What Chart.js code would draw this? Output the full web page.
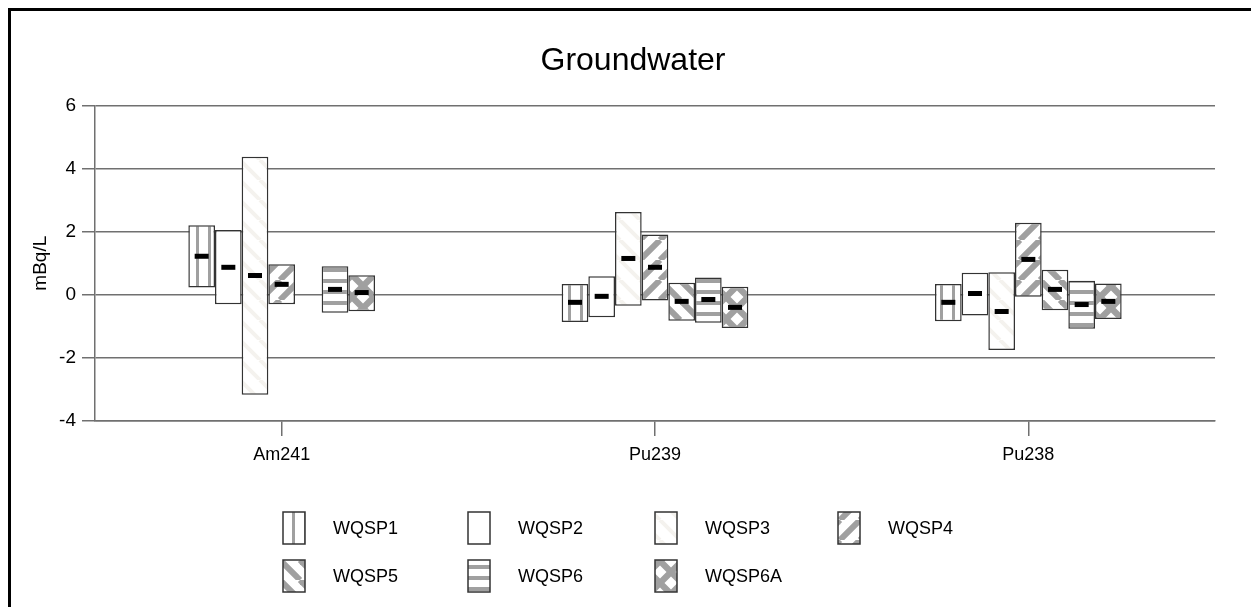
<!DOCTYPE html>
<html>
<head>
<meta charset="utf-8">
<script src="https://cdn.jsdelivr.net/npm/chart.js@4.4.0/dist/chart.umd.min.js"></script>
<style>
  html, body { margin: 0; padding: 0; background: #fff; }
  #wrap { width: 1251px; height: 607px; }
</style>
</head>
<body>
<div id="wrap"><canvas id="gwChart"></canvas></div>
<script>
const categories = ['Am241', 'Pu239', 'Pu238'];
const seriesNames = ['WQSP1', 'WQSP2', 'WQSP3', 'WQSP4', 'WQSP5', 'WQSP6', 'WQSP6A'];
const yTicks = [-4, -2, 0, 2, 4, 6];

// [low, high] range per category, and the mean marker
const wqsp1Range = [[0.23, 2.20], [-0.86, 0.34], [-0.84, 0.34]];
const wqsp1Mean = [1.22, -0.24, -0.24];
const wqsp2Range = [[-0.30, 2.05], [-0.71, 0.59], [-0.66, 0.70]];
const wqsp2Mean = [0.87, -0.05, 0.04];
const wqsp3Range = [[-3.17, 4.37], [-0.35, 2.62], [-1.75, 0.71]];
const wqsp3Mean = [0.61, 1.15, -0.53];
const wqsp4Range = [[-0.30, 0.97], [-0.18, 1.91], [-0.06, 2.28]];
const wqsp4Mean = [0.33, 0.87, 1.12];
const wqsp5Range = [null, [-0.82, 0.38], [-0.49, 0.79]];
const wqsp5Mean = [null, -0.21, 0.17];
const wqsp6Range = [[-0.57, 0.90], [-0.89, 0.55], [-1.08, 0.44]];
const wqsp6Mean = [0.17, -0.15, -0.31];
const wqsp6aRange = [[-0.52, 0.62], [-1.05, 0.25], [-0.77, 0.36]];
const wqsp6aMean = [0.07, -0.40, -0.21];

const ranges = [wqsp1Range, wqsp2Range, wqsp3Range, wqsp4Range, wqsp5Range, wqsp6Range, wqsp6aRange];
const means = [wqsp1Mean, wqsp2Mean, wqsp3Mean, wqsp4Mean, wqsp5Mean, wqsp6Mean, wqsp6aMean];

const FONT = "'Liberation Sans', Arial, sans-serif";
const GRAY = '#a0a0a0';

function makePattern(kind) {
    if (kind === 'plain') return '#ffffff';
    const size = { vert: 12, horiz: 11, cross: 22 }[kind] || 20;
    const c = document.createElement('canvas');
    c.width = size; c.height = size;
    const g = c.getContext('2d');
    g.fillStyle = '#ffffff';
    g.fillRect(0, 0, size, size);
    if (kind === 'vert') {
        g.fillStyle = GRAY; g.fillRect(4, 0, 3, size);
    } else if (kind === 'horiz') {
        g.fillStyle = GRAY; g.fillRect(0, 4, size, 4);
    } else if (kind === 'fwd' || kind === 'back' || kind === 'faint') {
        g.strokeStyle = kind === 'faint' ? '#f4f2ee' : GRAY;
        g.lineWidth = kind === 'faint' ? 4 : 6;
        for (let k = -1; k <= 1; k++) {
            g.beginPath();
            if (kind === 'fwd') {
                g.moveTo(k * size, size); g.lineTo(k * size + size, 0);
            } else {
                g.moveTo(k * size, 0); g.lineTo(k * size + size, size);
            }
            g.stroke();
        }
    } else if (kind === 'cross') {
        g.fillStyle = GRAY; g.fillRect(0, 0, size, size);
        g.fillStyle = '#ffffff';
        const d = 6.5, h = size / 2;
        [[h, h], [0, 0], [size, 0], [0, size], [size, size]].forEach(([cx, cy]) => {
            g.beginPath();
            g.moveTo(cx, cy - d); g.lineTo(cx + d, cy); g.lineTo(cx, cy + d); g.lineTo(cx - d, cy);
            g.closePath(); g.fill();
        });
    }
    return g.createPattern(c, 'repeat');
}

const fills = ['vert', 'plain', 'faint', 'fwd', 'back', 'horiz', 'cross'].map(makePattern);

// mean dashes on top of each bar
const meanMarks = {
    id: 'meanMarks',
    afterDatasetsDraw(chart) {
        const ctx = chart.ctx, y = chart.scales.y;
        ctx.save();
        ctx.fillStyle = '#000';
        means.forEach((m, i) => {
            chart.getDatasetMeta(i).data.forEach((bar, j) => {
                if (m[j] == null) return;
                ctx.fillRect(bar.x - 7, y.getPixelForValue(m[j]) - 2.5, 14, 5);
            });
        });
        ctx.restore();
    }
};

// legend in a 4-column grid + the page frame
const gridLegend = {
    id: 'gridLegend',
    beforeDraw(chart) {
        const ctx = chart.ctx;
        ctx.save();
        ctx.fillStyle = '#fff';
        ctx.fillRect(0, 0, chart.width, chart.height);
        ctx.restore();
    },
    afterDraw(chart) {
        const ctx = chart.ctx;
        ctx.save();
        const colX = [283, 468, 655, 838], rowY = [512, 560];
        chart.data.datasets.forEach((ds, i) => {
            const x = colX[i % 4], y = rowY[Math.floor(i / 4)];
            ctx.fillStyle = ds.backgroundColor;
            ctx.fillRect(x, y, 22, 32);
            ctx.strokeStyle = '#333';
            ctx.lineWidth = 1.5;
            ctx.strokeRect(x, y, 22, 32);
            ctx.fillStyle = '#000';
            ctx.font = '18px ' + FONT;
            ctx.textBaseline = 'middle';
            ctx.fillText(ds.label, x + 50, y + 17);
        });
        ctx.fillStyle = '#000';
        ctx.fillRect(8, 8, chart.width - 8, 3);
        ctx.fillRect(8, 8, 3, chart.height - 8);
        ctx.restore();
    }
};

new Chart(document.getElementById('gwChart'), {
    type: 'bar',
    data: {
        labels: categories,
        datasets: seriesNames.map((name, i) => ({
            label: name,
            data: ranges[i],
            backgroundColor: fills[i],
            borderColor: '#333',
            borderWidth: 1.5,
            borderSkipped: false,
            categoryPercentage: 0.5,
            barPercentage: 1.0
        }))
    },
    options: {
        responsive: true,
        maintainAspectRatio: false,
        animation: false,
        layout: { padding: { left: 15, right: 0, top: 0, bottom: 126 } },
        plugins: {
            legend: { display: false },
            tooltip: { enabled: false },
            title: {
                display: true,
                text: 'Groundwater',
                color: '#000',
                font: { family: FONT, size: 32, weight: 'normal' },
                padding: { top: 42, bottom: 25 }
            }
        },
        scales: {
            x: {
                afterFit(scale) { scale.height = 60; },
                grid: { drawOnChartArea: false, offset: false, tickLength: 15, color: '#707070', lineWidth: 1.5 },
                border: { color: '#707070', width: 1.5 },
                ticks: { color: '#000', font: { family: FONT, size: 18 }, padding: 8 }
            },
            y: {
                min: -4,
                max: 6,
                afterFit(scale) { scale.width = 80; },
                afterBuildTicks(scale) { scale.ticks = yTicks.map(v => ({ value: v })); },
                grid: { tickLength: 13, color: '#707070', lineWidth: 1.5 },
                border: { color: '#707070', width: 1.5 },
                ticks: { color: '#000', font: { family: FONT, size: 19 }, padding: 6 },
                title: {
                    display: true,
                    text: 'mBq/L',
                    color: '#000',
                    font: { family: FONT, size: 19 },
                    padding: { top: 14, bottom: 0 }
                }
            },
            // empty right margin so the title centres on the framed area
            yRight: {
                position: 'right',
                afterFit(scale) { scale.width = 36; },
                grid: { display: false },
                border: { display: false },
                ticks: { display: false }
            }
        }
    },
    plugins: [meanMarks, gridLegend]
});
</script>
</body>
</html>
